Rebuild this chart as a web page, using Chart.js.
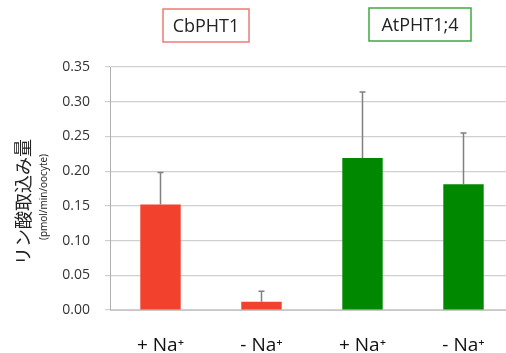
<!DOCTYPE html>
<html>
<head>
<meta charset="utf-8">
<script src="https://cdn.jsdelivr.net/npm/chart.js@4"></script>
<style>
  html, body { margin: 0; padding: 0; background: #fff; overflow: hidden; }
  #wrap { width: 514px; height: 353px; }
</style>
</head>
<body>
<div id="wrap"><canvas id="c" width="514" height="353"></canvas></div>
<script>
// データ
const categories = ['+ Na\u207A', '- Na\u207A', '+ Na\u207A', '- Na\u207A'];
const uptake = [0.152, 0.012, 0.219, 0.181];
const uptakeErr = [0.046, 0.015, 0.095, 0.074];
const barColors = ['#f2412d', '#f2412d', '#008800', '#008800'];
const yTicks = [0, 0.05, 0.10, 0.15, 0.20, 0.25, 0.30, 0.35];
const groupNames = ['CbPHT1', 'AtPHT1;4'];
const groupBorders = ['#ee7b74', '#3fa93f'];

// 誤差棒
const errorBars = {
    id: 'errorBars',
    afterDatasetsDraw(chart) {
        const ctx = chart.ctx;
        const y = chart.scales.y;
        chart.getDatasetMeta(0).data.forEach((bar, i) => {
            const top = y.getPixelForValue(uptake[i] + uptakeErr[i]);
            ctx.save();
            ctx.strokeStyle = '#808080';
            ctx.lineWidth = 1.5;
            ctx.beginPath();
            ctx.moveTo(bar.x, bar.y);
            ctx.lineTo(bar.x, top);
            ctx.moveTo(bar.x - 3, top);
            ctx.lineTo(bar.x + 3, top);
            ctx.stroke();
            ctx.restore();
        });
    }
};

// 軸タイトルとグループ名の枠
const labels = {
    id: 'labels',
    afterDraw(chart) {
        const ctx = chart.ctx;
        ctx.save();
        ctx.fillStyle = '#222';
        ctx.textAlign = 'center';
        ctx.textBaseline = 'middle';
        ctx.translate(23, 202);
        ctx.rotate(-Math.PI / 2);
        ctx.font = '18px "Noto Sans CJK JP"';
        ctx.fillText('リン酸取込み量', 0, 0);
        ctx.font = '10px "Open Sans"';
        ctx.fillText('(pmol/min/oocyte)', 5, 21);
        ctx.restore();

        const boxes = [[163, 9, 86, 33], [369, 8, 102, 33]];
        boxes.forEach((b, i) => {
            ctx.save();
            ctx.strokeStyle = groupBorders[i];
            ctx.lineWidth = 1.5;
            ctx.strokeRect(b[0], b[1], b[2], b[3]);
            ctx.fillStyle = '#222';
            ctx.font = '18px "Open Sans"';
            ctx.textAlign = 'center';
            ctx.textBaseline = 'middle';
            ctx.fillText(groupNames[i], b[0] + b[2] / 2, b[1] + b[3] / 2 + 1);
            ctx.restore();
        });
    }
};

new Chart(document.getElementById('c'), {
    type: 'bar',
    data: {
        labels: categories,
        datasets: [{
            data: uptake,
            backgroundColor: barColors,
            barPercentage: 0.4,
            categoryPercentage: 1.0
        }]
    },
    options: {
        responsive: false,
        animation: false,
        layout: { padding: { top: 67, left: 0, right: 0, bottom: 0 } },
        plugins: {
            legend: { display: false },
            tooltip: { enabled: false }
        },
        scales: {
            x: {
                grid: { display: false, drawTicks: false },
                border: { color: '#c8c8c8' },
                ticks: { color: '#111', font: { family: 'Open Sans', size: 19 }, padding: 24 },
                afterFit(s) { s.height = 43; }
            },
            y: {
                min: 0,
                max: 0.35,
                afterBuildTicks(s) { s.ticks = yTicks.map(v => ({ value: v })); },
                grid: { color: '#d0d0d0', lineWidth: 1.2, tickLength: 5 },
                border: { color: '#b0b0b0' },
                ticks: {
                    color: '#333',
                    font: { family: 'Open Sans', size: 14 },
                    padding: 15,
                    callback: v => v.toFixed(2)
                },
                afterFit(s) { s.width = 110; }
            }
        }
    },
    plugins: [errorBars, labels]
});
</script>
</body>
</html>
